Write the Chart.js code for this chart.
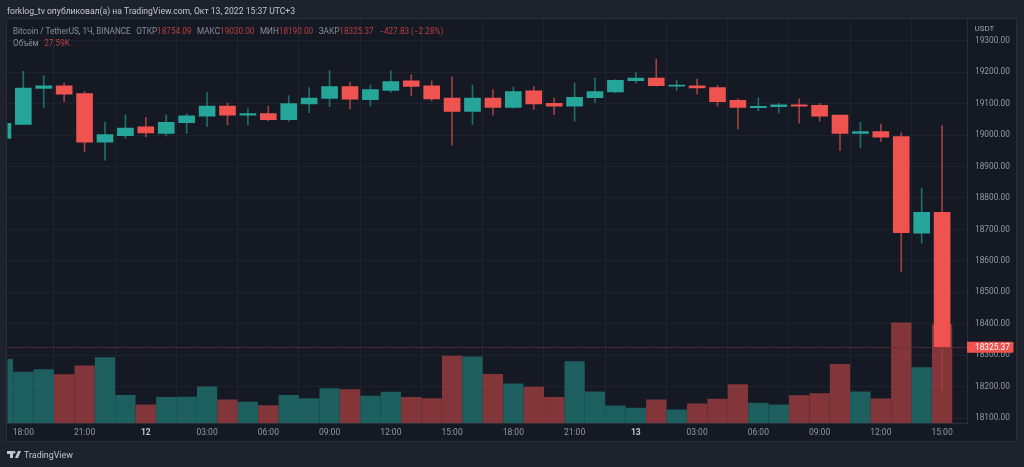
<!DOCTYPE html>
<html>
<head>
<meta charset="utf-8">
<script src="https://cdn.jsdelivr.net/npm/chart.js@4"></script>
<style>
  html, body { margin: 0; padding: 0; width: 1024px; height: 467px; overflow: hidden; background: #1e222d; font-family: Roboto, sans-serif; }
  #panel { position: absolute; left: 7px; top: 19px; width: 1009px; height: 422px; background: #151924; box-shadow: 0 0 0 1px #2a2e39; }
  canvas { position: absolute; left: 0; top: 0; }
  .txt { position: absolute; white-space: nowrap; }
  #byline { left: 7px; top: 5px; font-size: 8.6px; line-height: 12px; color: #c4c6cd; }
  #legend1 { left: 13px; top: 24.5px; font-size: 8.2px; line-height: 12px; color: #8b8e98; }
  #legend2 { left: 13px; top: 36.5px; font-size: 8.2px; line-height: 12px; color: #8b8e98; }
  .red { color: #b8403f; }
  .gap { margin-left: 3.5px; }
  #unit { left: 974.5px; top: 23px; font-size: 8px; line-height: 12px; color: #a0a3ab; }
  #brand { left: 24px; top: 449px; font-size: 8.9px; line-height: 12px; color: #c4c6cd; }
  #logo { position: absolute; left: 7px; top: 451px; }
</style>
</head>
<body>
<div id="panel"></div>
<canvas id="chart" width="1024" height="467"></canvas>
<div class="txt" id="byline">forklog_tv опубликовал(а) на TradingView.com, Окт 13, 2022 15:37 UTC+3</div>
<div class="txt" id="legend1">Bitcoin / TetherUS, 1Ч, BINANCE <span class="gap">ОТКР</span><span class="red">18754.09</span> <span class="gap">МАКС</span><span class="red">19030.00</span> <span class="gap">МИН</span><span class="red">18190.00</span> <span class="gap">ЗАКР</span><span class="red">18325.37</span> <span class="red gap">−427.83 (−2.28%)</span></div>
<div class="txt" id="legend2">Объём <span class="red gap">27.59K</span></div>
<div class="txt" id="unit">USDT</div>
<svg id="logo" width="14" height="8" viewBox="0 0 14 8"><path fill="#c4c6cd" d="M0 0h6v7H3V3H0zM7.2 0a1.3 1.3 0 1 1 0 2.6 1.3 1.3 0 0 1 0-2.6zM11 0h3l-3 7H8z"/></svg>
<div class="txt" id="brand">TradingView</div>

<script>
// hourly candles, first one is 17:00 on the 11th and it is cut by the left edge
const opens  = [18989,19034,19148,19156,19132,18977,18998,19026,19005,19039,19060,19092,19063,19068,19049,19099,19116,19154,19112,19142,19172,19156,19117,19075,19117,19088,19140,19101,19092,19119,19137,19173,19181,19155,19156,19151,19110,19087,19090,19096,19094,19063,19005,19011,18995,18688,18754.09];
const closes = [19037,19149,19156,19130,18977,19001,19022,19007,19040,19061,19092,19063,19068,19049,19100,19117,19154,19114,19144,19170,19154,19115,19075,19117,19088,19138,19099,19092,19120,19138,19174,19181,19157,19159,19150,19106,19088,19091,19096,19092,19060,19005,19011,18993,18690,18754,18325.37];
const highs  = [19045,19202,19188,19165,19138,19041,19063,19056,19063,19067,19135,19102,19083,19091,19125,19151,19205,19167,19159,19204,19191,19172,19184,19159,19144,19152,19155,19117,19165,19181,19176,19198,19241,19174,19178,19158,19115,19118,19101,19115,19101,19065,19041,19035,19007,18831,19030];
const lows   = [18980,19033,19087,19106,18946,18920,18989,18995,18997,19005,19027,19032,19032,19045,19043,19071,19090,19083,19092,19135,19125,19108,18968,19034,19063,19085,19081,19065,19044,19103,19134,19165,19154,19142,19130,19092,19019,19077,19070,19038,19044,18951,18960,18980,18566,18656,18190];
const volumes = [17.9,14.3,15.0,13.6,16.1,18.4,7.8,5.1,7.2,7.3,10.2,6.5,5.9,4.9,7.8,6.9,9.7,9.4,7.6,8.7,7.2,6.9,18.8,18.6,13.7,11.0,10.1,7.2,17.3,8.8,4.8,4.2,6.5,3.7,5.4,6.7,10.8,5.6,5.1,7.7,8.3,16.5,8.8,6.8,28.2,15.6,27.59];

const timeTicks  = [1,4,7,10,13,16,19,22,25,28,31,34,37,40,43,46];
const timeLabels = ['18:00','21:00','12','03:00','06:00','09:00','12:00','15:00','18:00','21:00','13','03:00','06:00','09:00','12:00','15:00'];
const priceTicks = [19300,19200,19100,19000,18900,18800,18700,18600,18500,18400,18300,18200,18100];
const lastPrice = 18325.37;

const UP = '#26a69a', DOWN = '#ef5350';
const isUp = opens.map((o, i) => closes[i] >= o);
// day numbers on the time axis are bold
const isDay = i => (timeLabels[i] || '').length === 2;

const lastPriceLine = {
    id: 'lastPriceLine',
    afterDraw(chart) {
        const { ctx, chartArea, scales } = chart;
        const y = scales.y.getPixelForValue(lastPrice);
        ctx.save();
        ctx.strokeStyle = '#6b2c33';
        ctx.lineWidth = 1;
        ctx.setLineDash([2, 1]);
        ctx.beginPath();
        ctx.moveTo(chartArea.left, Math.round(y) + 0.5);
        ctx.lineTo(chartArea.right, Math.round(y) + 0.5);
        ctx.stroke();
        ctx.setLineDash([]);
        // price tag on the axis
        ctx.fillStyle = DOWN;
        ctx.beginPath();
        ctx.roundRect(chartArea.right, y - 5.5, 46.5, 11, [0, 1.5, 1.5, 0]);
        ctx.fill();
        ctx.fillStyle = '#ffffff';
        ctx.font = '8.3px Roboto';
        ctx.textBaseline = 'middle';
        ctx.fillText(lastPrice.toFixed(2), chartArea.right + 8, y + 0.5);
        ctx.restore();
    }
};

new Chart(document.getElementById('chart'), {
    type: 'bar',
    data: {
        datasets: [
            {
                label: 'Свечи',
                data: opens.map((o, i) => ({ x: i, y: [o, closes[i]] })),
                backgroundColor: isUp.map(u => u ? UP : DOWN),
                barThickness: 16,
                grouped: false,
                order: 1
            },
            {
                label: 'Тени',
                data: lows.map((l, i) => ({ x: i, y: [l, highs[i]] })),
                backgroundColor: isUp.map(u => u ? '#1d6f69' : '#a23f3f'),
                barThickness: 1,
                grouped: false,
                order: 2
            },
            {
                label: 'Объём',
                data: volumes.map((v, i) => ({ x: i, y: v })),
                yAxisID: 'vol',
                backgroundColor: isUp.map(u => u ? 'rgba(38,166,154,0.5)' : 'rgba(239,83,80,0.5)'),
                barThickness: 19.6,
                grouped: false,
                order: 3
            }
        ]
    },
    options: {
        responsive: false,
        animation: false,
        devicePixelRatio: 1,
        layout: { padding: { left: 7.5, top: 19.5, right: 8, bottom: 25 } },
        plugins: { legend: { display: false }, tooltip: { enabled: false } },
        scales: {
            x: {
                type: 'linear',
                offset: false,
                min: 0.225,
                max: 47.22,
                afterBuildTicks: s => { s.ticks = timeTicks.map(v => ({ value: v })); },
                afterFit: s => { s.height = 19; },
                grid: { color: '#1f232e', drawTicks: false },
                border: { color: '#2a2e39' },
                ticks: {
                    autoSkip: false,
                    maxRotation: 0,
                    padding: 5,
                    color: c => (isDay(c.index) ? '#c4c6cd' : '#9598a1'),
                    font: c => ({ family: 'Roboto', size: 8.5, weight: isDay(c.index) ? 'bold' : 'normal' }),
                    callback: (v, i) => timeLabels[i]
                }
            },
            y: {
                position: 'right',
                min: 18085,
                max: 19367,
                afterBuildTicks: s => { s.ticks = priceTicks.map(v => ({ value: v })); },
                afterFit: s => { s.width = 49; },
                grid: { color: '#1f232e', drawTicks: false },
                border: { color: '#2a2e39' },
                ticks: {
                    autoSkip: false,
                    padding: 8,
                    color: '#9598a1',
                    font: { family: 'Roboto', size: 8.3 },
                    callback: v => v.toFixed(2)
                }
            },
            vol: {
                display: false,
                min: 0,
                max: 113.5
            }
        }
    },
    plugins: [lastPriceLine]
});
</script>
</body>
</html>
